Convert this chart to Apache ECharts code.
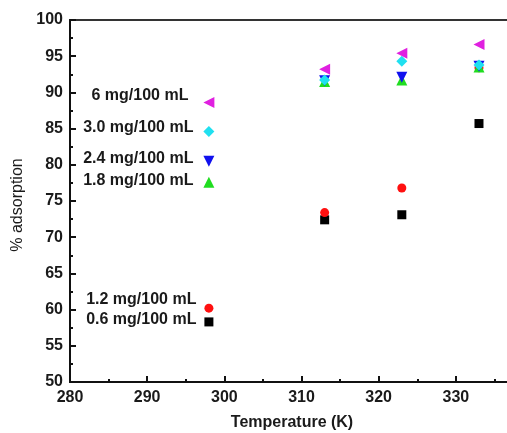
<!DOCTYPE html>
<html>
<head>
<meta charset="utf-8">
<script src="https://cdn.jsdelivr.net/npm/echarts@6/dist/echarts.min.js"></script>
<style>
  html, body { margin: 0; padding: 0; background: #fff; }
  #chart { width: 507px; height: 433px; }
</style>
</head>
<body>
<div id="chart"></div>
<script>
// temperatures (K)
var temps = [298, 313, 323, 333];

// % adsorption per dose
var s06 = [58.3, 72.4, 73.1, 85.7];
var s12 = [60.2, 73.4, 76.8, 93.4];
var s18 = [77.6, 91.5, 91.7, 93.5];
var s24 = [80.5, 91.6, 92.1, 93.6];
var s30 = [84.6, 91.7, 94.3, 93.8];
var s60 = [88.6, 93.2, 95.4, 96.6];

var names = ['0.6 mg/100 mL', '1.2 mg/100 mL', '1.8 mg/100 mL', '2.4 mg/100 mL', '3.0 mg/100 mL', '6 mg/100 mL'];
var values = [s06, s12, s18, s24, s30, s60];

// marker styles, drawn in this order
var looks = [
  { symbol: 'rect', size: 9, rotate: 0, color: '#000000', offset: [2, -2] },
  { symbol: 'circle', size: 9, rotate: 0, color: '#ff1010', offset: [2, -9] },
  { symbol: 'triangle', size: 11, rotate: 0, color: '#20dd20', offset: [0, -2] },
  { symbol: 'triangle', size: 11, rotate: 180, color: '#1010ee', offset: [0, -3] },
  { symbol: 'diamond', size: 11, rotate: 0, color: '#20e0f0', offset: [0, -4] },
  { symbol: 'triangle', size: 11, rotate: 90, color: '#e020e0', offset: [-5, -7] }
];

var font = 'Liberation Sans, Arial, sans-serif';

var series = names.map(function (n, i) {
  var lk = looks[i];
  return {
    name: n,
    type: 'scatter',
    symbol: lk.symbol,
    symbolSize: lk.size,
    symbolRotate: lk.rotate,
    itemStyle: { color: lk.color, opacity: 1 },
    label: {
      show: true,
      position: 'left',
      distance: 10,
      offset: lk.offset,
      color: '#1a1a1a',
      fontFamily: font,
      fontWeight: 'bold',
      fontSize: 16,
      formatter: function (p) { return p.dataIndex === 0 ? p.seriesName : ''; }
    },
    data: temps.map(function (t, k) { return [t, values[i][k]]; })
  };
});

var chart = echarts.init(document.getElementById('chart'));
chart.setOption({
  animation: false,
  grid: {
    left: 70, top: 20, width: 463, height: 362,
    show: true, borderColor: '#333', borderWidth: 2,
    outerBoundsMode: 'none'
  },
  xAxis: {
    type: 'value', min: 280, max: 340, interval: 10,
    name: 'Temperature (K)', nameLocation: 'middle', nameGap: 33,
    nameTextStyle: { fontFamily: font, fontWeight: 'bold', fontSize: 16, color: '#1a1a1a', padding: [0, 19, 0, 0] },
    axisLine: { lineStyle: { color: '#111', width: 2 } },
    axisTick: { inside: true, length: 6, lineStyle: { width: 2, color: '#111' } },
    minorTick: { show: true, splitNumber: 2, length: 3, lineStyle: { width: 2, color: '#111' } },
    splitLine: { show: false },
    axisLabel: { fontFamily: font, fontWeight: 'bold', fontSize: 16, color: '#1a1a1a', margin: 8 }
  },
  yAxis: {
    type: 'value', min: 50, max: 100, interval: 5,
    name: '% adsorption', nameLocation: 'middle', nameGap: 43,
    nameTextStyle: { fontFamily: font, fontSize: 16, color: '#1a1a1a', padding: [0, 8, 0, 0] },
    axisLine: { lineStyle: { color: '#111', width: 2 } },
    axisTick: { inside: true, length: 6, lineStyle: { width: 2, color: '#111' } },
    minorTick: { show: true, splitNumber: 2, length: 3, lineStyle: { width: 2, color: '#111' } },
    splitLine: { show: false },
    axisLabel: { fontFamily: font, fontWeight: 'bold', fontSize: 16, color: '#1a1a1a', margin: 7 }
  },
  series: series
});
</script>
</body>
</html>
